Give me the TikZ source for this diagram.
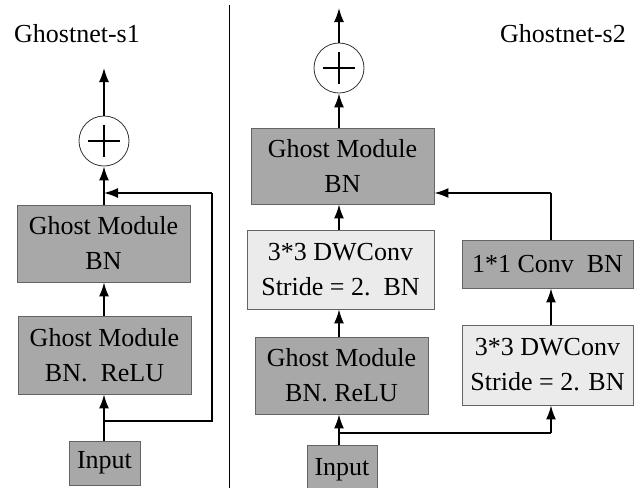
\documentclass[tikz,border=0pt]{standalone}
\usepackage{fontspec}
\setmainfont{Liberation Serif}
\usetikzlibrary{arrows.meta}
\definecolor{darkfill}{RGB}{168,168,168}
\definecolor{lightfill}{RGB}{235,235,235}
\definecolor{edgec}{RGB}{100,100,100}
\begin{document}
\begin{tikzpicture}[x=1pt,y=-1pt,
  txt/.style={font=\fontsize{26}{35}\selectfont, align=center},
  darkbox/.style={txt, draw=edgec, line width=0.9pt, fill=darkfill, inner sep=0pt},
  lightbox/.style={txt, draw=edgec, line width=0.9pt, fill=lightfill, inner sep=0pt},
  plusnode/.style={circle, draw=black!80, line width=0.8pt, minimum size=50pt, inner sep=0pt},
  arr/.style={line width=1.6pt, -{Latex[length=14pt,width=10pt]}},
  ln/.style={line width=1.6pt}
]
\useasboundingbox (0,0) rectangle (641,488);

% divider
\coordinate (dvT) at (229,5);
\coordinate (dvB) at (229,488);
\draw[line width=1pt] (dvT) -- (dvB);

% ---------- left: Ghostnet-s1 ----------
\node[txt] (s1title) at (77,34) {Ghostnet-s1};
\node[plusnode] (plusL) at (104,141) {};
\draw[line width=1.6pt] ([xshift=-16pt]plusL.center) -- ([xshift=16pt]plusL.center);
\draw[line width=1.6pt] ([yshift=-16pt]plusL.center) -- ([yshift=16pt]plusL.center);
\node[darkbox, minimum width=173pt, minimum height=77pt] (gm1) at (103.5,243.5) {Ghost Module\\BN};
\node[darkbox, minimum width=173pt, minimum height=78pt] (gm2) at (104.5,355) {Ghost Module\\BN.\ \ ReLU};
\node[darkbox, minimum width=71pt, minimum height=44pt] (inL) at (104.5,463) {Input};
\coordinate (outL) at (104,68);
\coordinate (sL1) at (104,421);
\coordinate (sL2) at (212,421);
\coordinate (sL3) at (212,193);
\coordinate (sL4) at (104,193);

\draw[arr] (inL.north -| sL1) -- (gm2.south -| sL1);
\draw[arr] (gm2.north -| sL1) -- (gm1.south -| sL1);
\draw[arr] (gm1.north -| sL1) -- (plusL.south);
\draw[arr] (plusL.north) -- (outL);
\draw[ln] (sL1) -- (sL2) -- (sL3);
\draw[arr] (sL3) -- (sL4);

% ---------- right: Ghostnet-s2 ----------
\node[txt] (s2title) at (563,34) {Ghostnet-s2};
\node[plusnode] (plusR) at (339,68) {};
\draw[line width=1.6pt] ([xshift=-16pt]plusR.center) -- ([xshift=16pt]plusR.center);
\draw[line width=1.6pt] ([yshift=-16pt]plusR.center) -- ([yshift=16pt]plusR.center);
\node[darkbox, minimum width=183pt, minimum height=76pt] (gmR1) at (342.5,166) {Ghost Module\\BN};
\node[lightbox, minimum width=187pt, minimum height=79pt] (dwL) at (340.5,269.5) {3*3 DWConv\\Stride = 2.\ \ BN};
\node[darkbox, minimum width=173pt, minimum height=77pt] (gmR2) at (341.5,375.5) {Ghost Module\\BN. ReLU};
\node[darkbox, minimum width=70pt, minimum height=50pt] (inR) at (342,470) {Input};
\node[darkbox, minimum width=171pt, minimum height=48pt] (conv11) at (547.5,264) {1*1 Conv\ \ BN};
\node[lightbox, minimum width=171pt, minimum height=80pt] (dwR) at (547.5,365) {3*3 DWConv\\Stride = 2. BN};

\coordinate (outR) at (339,8);
\coordinate (sR1) at (339,433);
\coordinate (sR2) at (551,433);
\coordinate (sR3) at (551,193);

\draw[arr] (inR.north -| sR1) -- (gmR2.south -| sR1);
\draw[arr] (gmR2.north -| sR1) -- (dwL.south -| sR1);
\draw[arr] (dwL.north -| sR1) -- (gmR1.south -| sR1);
\draw[arr] (gmR1.north -| sR1) -- (plusR.south);
\draw[arr] (plusR.north) -- (outR);
\draw[ln] (sR1) -- (sR2);
\draw[arr] (sR2) -- (dwR.south -| sR2);
\draw[arr] (dwR.north -| sR2) -- (conv11.south -| sR2);
\draw[ln] (conv11.north -| sR3) -- (sR3);
\draw[arr] (sR3) -- (sR3 -| gmR1.east);
\end{tikzpicture}
\end{document}
